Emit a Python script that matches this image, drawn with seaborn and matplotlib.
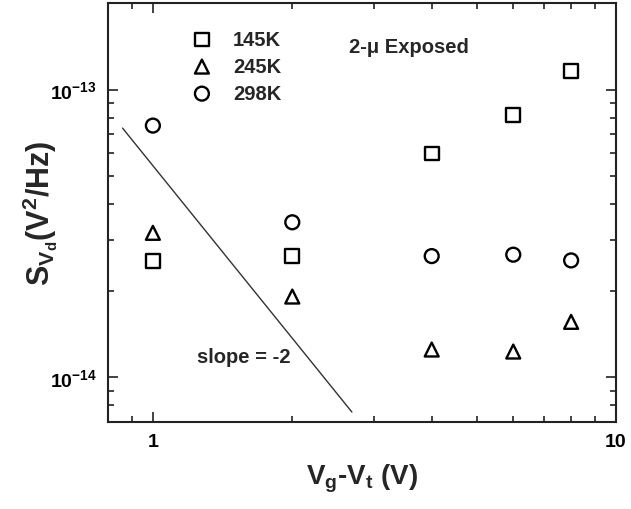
import numpy as np
import pandas as pd
import matplotlib
matplotlib.use("Agg")
import matplotlib.pyplot as plt
import seaborn as sns
from matplotlib.ticker import LogLocator, NullFormatter, FixedLocator, FixedFormatter

# ---- data ----
vg_vt = [1, 2, 4, 6, 8]
s_145K = [2.53e-14, 2.64e-14, 6.0e-14, 8.17e-14, 1.16e-13]
s_245K = [3.18e-14, 1.91e-14, 1.25e-14, 1.23e-14, 1.56e-14]
s_298K = [7.5e-14, 3.46e-14, 2.64e-14, 2.67e-14, 2.55e-14]
series_labels = ["145K", "245K", "298K"]
slope_x = [0.86, 2.69]
slope_y = [7.35e-14, 7.58e-15]

sns.set_style("white")
plt.rcParams["font.family"] = ["Liberation Sans", "DejaVu Sans"]
plt.rcParams["font.weight"] = "bold"
plt.rcParams["mathtext.fontset"] = "custom"
plt.rcParams["mathtext.rm"] = "Liberation Sans:bold"
plt.rcParams["mathtext.it"] = "Liberation Sans:bold"
plt.rcParams["mathtext.bf"] = "Liberation Sans:bold"
plt.rcParams["mathtext.default"] = "bf"

df = pd.DataFrame({
    "x": vg_vt * 3,
    "y": s_145K + s_245K + s_298K,
    "T": [series_labels[0]] * 5 + [series_labels[1]] * 5 + [series_labels[2]] * 5,
})
line_df = pd.DataFrame({"x": slope_x, "y": slope_y})

fig = plt.figure(figsize=(6.31, 5.10), dpi=100)
ax = fig.add_axes([108 / 631, 87 / 510, 508 / 631, 419 / 510])

markers = {"145K": "s", "245K": "^", "298K": "o"}
for lab in series_labels:
    sub = df[df["T"] == lab]
    sns.scatterplot(data=sub, x="x", y="y", marker=markers[lab], s=100,
                    facecolor="none", edgecolor="black", linewidth=1.7,
                    label=lab, ax=ax, legend=False)

sns.lineplot(data=line_df, x="x", y="y", color="#333333", linewidth=1.0, ax=ax)

ax.set_xscale("log")
ax.set_yscale("log")
ax.set_xlim(0.8, 10)
ax.set_ylim(7e-15, 2e-13)

ax.xaxis.set_major_locator(FixedLocator([1, 10]))
ax.xaxis.set_major_formatter(FixedFormatter(["1", "10"]))
ax.xaxis.set_minor_locator(LogLocator(base=10, subs=np.arange(2, 10)))
ax.xaxis.set_minor_formatter(NullFormatter())
ax.yaxis.set_major_locator(FixedLocator([1e-14, 1e-13]))
ax.yaxis.set_major_formatter(FixedFormatter([r"$10^{-14}$", r"$10^{-13}$"]))
ax.yaxis.set_minor_locator(LogLocator(base=10, subs=np.arange(2, 10)))
ax.yaxis.set_minor_formatter(NullFormatter())

ax.tick_params(which="both", direction="in", top=True, right=True,
               left=True, bottom=True,
               width=1.2, colors="#222222", labelcolor="black")
ax.tick_params(which="major", length=7, labelsize=14, pad=8)
ax.tick_params(which="minor", length=4)
for sp in ax.spines.values():
    sp.set_linewidth(1.5)
    sp.set_color("#222222")

ax.set_xlabel(r"$V_g$-$V_t$ (V)", fontsize=20, fontweight="bold", labelpad=8)
ax.set_ylabel(r"$S_{V_d}(V^2/Hz)$", fontsize=22, fontweight="bold", labelpad=-7)

ax.text(0.474, 0.897, "2-\u03bc Exposed", transform=ax.transAxes, fontsize=14.5,
        fontweight="bold", va="center", ha="left")
ax.text(0.175, 0.1575, "slope = -2", transform=ax.transAxes, fontsize=14.5,
        fontweight="bold", va="center", ha="left")

leg = ax.legend(loc="upper left", bbox_to_anchor=(0.169, 0.936), frameon=False,
                fontsize=14.5, handlelength=0.8, handletextpad=1.15,
                labelspacing=0.40, borderpad=0, borderaxespad=0, scatterpoints=1)
for t in leg.get_texts():
    t.set_fontweight("bold")

fig.savefig("out.png", dpi=100)
